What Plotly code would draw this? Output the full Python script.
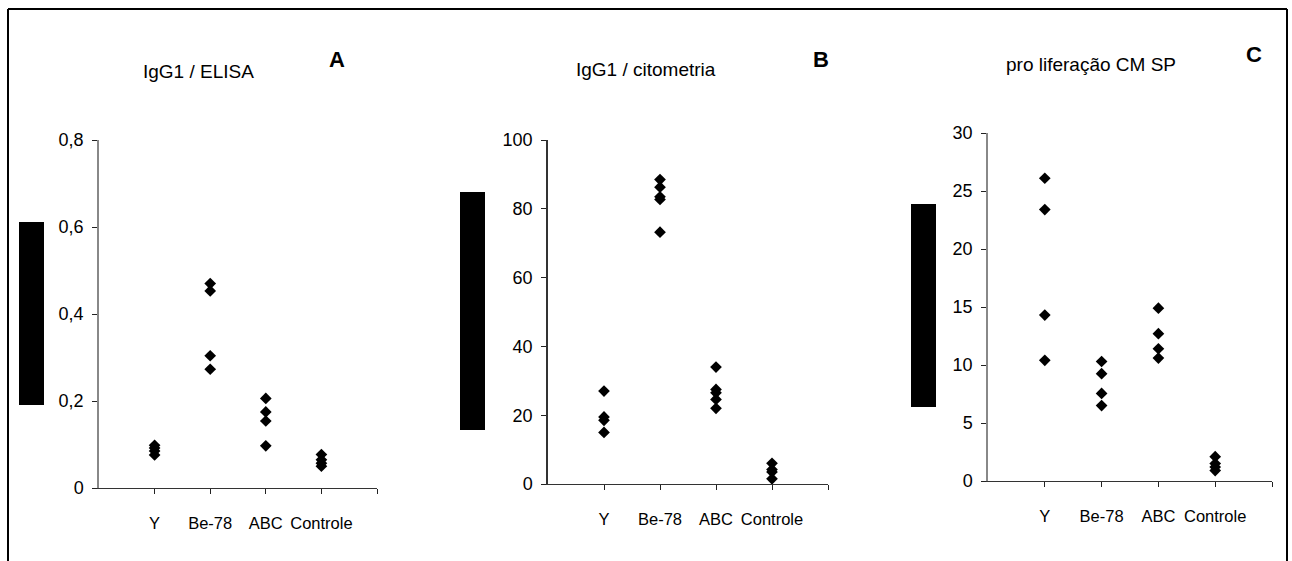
import plotly.graph_objects as go

W, H = 1292, 561

categories = ["Y", "Be-78", "ABC", "Controle"]

# Panel A: IgG1 / ELISA
elisa_y = [0.098, 0.092, 0.085, 0.076]
elisa_be78 = [0.470, 0.453, 0.304, 0.273]
elisa_abc = [0.206, 0.175, 0.154, 0.097]
elisa_ctrl = [0.077, 0.065, 0.057, 0.050]

# Panel B: IgG1 / citometria
cito_y = [27.0, 19.5, 18.5, 15.0]
cito_be78 = [88.5, 86.3, 83.5, 82.7, 73.2]
cito_abc = [34.0, 27.5, 26.5, 24.6, 22.0]
cito_ctrl = [6.0, 4.2, 3.5, 1.5]

# Panel C: proliferação CMSP
prolif_y = [26.1, 23.4, 14.3, 10.4]
prolif_be78 = [10.3, 9.25, 7.55, 6.5]
prolif_abc = [14.9, 12.7, 11.4, 10.6]
prolif_ctrl = [2.1, 1.5, 1.2, 0.9]

titles = ["IgG1 / ELISA", "IgG1 / citometria", "pro liferação CM SP"]
letters = ["A", "B", "C"]

ticks_a = [0, 0.2, 0.4, 0.6, 0.8]
ticktext_a = ["0", "0,2", "0,4", "0,6", "0,8"]
ticks_b = [0, 20, 40, 60, 80, 100]
ticks_c = [0, 5, 10, 15, 20, 25, 30]

panels = [
    [elisa_y, elisa_be78, elisa_abc, elisa_ctrl],
    [cito_y, cito_be78, cito_abc, cito_ctrl],
    [prolif_y, prolif_be78, prolif_abc, prolif_ctrl],
]

FONT = "Liberation Sans, Arial, sans-serif"


def px(x):
    return x / W


def py(y):
    return 1 - y / H


fig = go.Figure()
for p, groups in enumerate(panels):
    xs, ys = [], []
    for i, vals in enumerate(groups):
        xs += [i + 1] * len(vals)
        ys += vals
    sfx = "" if p == 0 else str(p + 1)
    fig.add_trace(go.Scatter(
        x=xs, y=ys, mode="markers",
        marker=dict(symbol="diamond", size=9, color="black"),
        xaxis="x" + sfx, yaxis="y" + sfx, showlegend=False,
        cliponaxis=False, hoverinfo="x+y",
    ))

# axis geometry (pixels)
x_dom = [(99, 377), (548, 828), (988, 1272)]
y_dom = [(488, 140), (484, 140), (481, 133)]
y_ranges = [[0, 0.8], [0, 100], [0, 30]]
y_tickvals = [ticks_a, ticks_b, ticks_c]
y_ticktext = [ticktext_a, [str(v) for v in ticks_b], [str(v) for v in ticks_c]]
y_linecolors = ["#888", "#333", "#888"]

layout = dict(
    width=W, height=H,
    template="none",
    margin=dict(l=0, r=0, t=0, b=0, pad=0),
    paper_bgcolor="white", plot_bgcolor="white",
    font=dict(family=FONT, color="black"),
    showlegend=False,
)
for p in range(3):
    sfx = "" if p == 0 else str(p + 1)
    layout["xaxis" + sfx] = dict(
        domain=[px(x_dom[p][0]), px(x_dom[p][1])],
        range=[0, 5], anchor="y" + sfx,
        tickvals=[1, 2, 3, 4, 5], ticktext=categories + [""],
        ticks="outside", ticklen=5, tickcolor="#222", tickwidth=1,
        showline=True, linecolor="#333", linewidth=1,
        showgrid=False, zeroline=False, automargin=False,
        tickfont=dict(size=16.5, family=FONT, color="black"),
        ticklabelstandoff=15,
    )
    layout["yaxis" + sfx] = dict(
        domain=[py(y_dom[p][0]), py(y_dom[p][1])],
        range=y_ranges[p], anchor="x" + sfx,
        tickvals=y_tickvals[p], ticktext=y_ticktext[p],
        ticks="outside", ticklen=5, tickcolor="#222", tickwidth=1,
        showline=True, linecolor=y_linecolors[p], linewidth=1.5,
        showgrid=False, zeroline=False, automargin=False,
        tickfont=dict(size=18, family=FONT, color="black"),
        ticklabelstandoff=5,
    )
fig.update_layout(**layout)

# titles and panel letters
title_pos = [(198, 71), (646, 70), (1091, 65)]
letter_pos = [(337, 60), (821, 59), (1254, 55)]
for p in range(3):
    fig.add_annotation(x=px(title_pos[p][0]), y=py(title_pos[p][1]), xref="paper", yref="paper",
                       text=titles[p], showarrow=False, xanchor="center", yanchor="middle",
                       font=dict(size=19, family=FONT, color="black"))
    fig.add_annotation(x=px(letter_pos[p][0]), y=py(letter_pos[p][1]), xref="paper", yref="paper",
                       text="<b>" + letters[p] + "</b>", showarrow=False, xanchor="center", yanchor="middle",
                       font=dict(size=22, family=FONT, color="black"))

# redaction bars (black blocks covering y-axis titles)
bars = [(19, 44, 222, 405), (460, 485, 192, 430), (911, 936, 204, 407)]
for x0, x1, y0, y1 in bars:
    fig.add_shape(type="rect", xref="paper", yref="paper",
                  x0=px(x0), x1=px(x1), y0=py(y1), y1=py(y0),
                  fillcolor="black", line=dict(width=0), layer="above")

# outer frame (left, top, right)
frame = dict(color="black", width=2)
fig.add_shape(type="line", xref="paper", yref="paper", x0=px(8), x1=px(8), y0=0, y1=py(9), line=frame)
fig.add_shape(type="line", xref="paper", yref="paper", x0=px(8), x1=px(1287), y0=py(9), y1=py(9), line=frame)
fig.add_shape(type="line", xref="paper", yref="paper", x0=px(1287), x1=px(1287), y0=0, y1=py(9), line=frame)

fig.write_html("out.html", post_script="document.body.style.margin='0';",
               config={"displayModeBar": False})
